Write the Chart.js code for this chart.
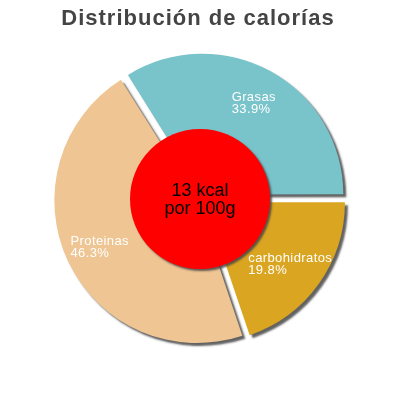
<!DOCTYPE html>
<html>
<head>
<meta charset="utf-8">
<script src="https://cdn.jsdelivr.net/npm/chart.js@4/dist/chart.umd.min.js"></script>
<style>
html,body{margin:0;padding:0;background:#fff;}
#wrap{width:400px;height:400px;}
</style>
</head>
<body>
<div id="wrap"><canvas id="c" width="400" height="400"></canvas></div>
<script>
const titleText = 'Distribución de calorías';
const categories = ['Grasas', 'carbohidratos', 'Proteinas'];
const percentages = [33.9, 19.8, 46.3];
const centerLines = ['13 kcal', 'por 100g'];
const sliceColors = ['#79c3cb', '#daa520', '#eec593'];

const DISP = 6; // exploded displacement in px

const total = percentages.reduce((a, b) => a + b, 0);
const startDeg = 90 - percentages[0] / total * 360;

function offsetFor(ctx) {
  const v = percentages[ctx.dataIndex];
  const circ = v / total * 2 * Math.PI;
  const fix = 1 - Math.sin(Math.min(Math.PI, circ));
  return 4 * DISP / (1 + fix);
}

const deco = {
  id: 'deco',
  beforeDraw(chart) {
    const ctx = chart.ctx;
    ctx.save();
    ctx.font = 'bold 22px "Liberation Sans", Arial, sans-serif';
    if ('letterSpacing' in ctx) ctx.letterSpacing = '1px';
    ctx.fillStyle = '#444444';
    ctx.textAlign = 'center';
    ctx.textBaseline = 'alphabetic';
    ctx.fillText(titleText, 198, 25);
    ctx.restore();
  },
  beforeDatasetDraw(chart) {
    const ctx = chart.ctx;
    ctx.save();
    ctx.shadowColor = 'rgba(70,70,70,0.85)';
    ctx.shadowBlur = 2;
    ctx.shadowOffsetX = 3;
    ctx.shadowOffsetY = 3;
  },
  afterDatasetDraw(chart) {
    chart.ctx.restore();
  },
  afterDatasetsDraw(chart) {
    const ctx = chart.ctx;
    const meta = chart.getDatasetMeta(0);
    const arc0 = meta.data[0];
    const cx = arc0.x, cy = arc0.y;
    // labels
    ctx.save();
    ctx.font = '13px "Liberation Sans", Arial, sans-serif';
    if ('letterSpacing' in ctx) ctx.letterSpacing = '0.4px';
    ctx.fillStyle = '#ffffff';
    ctx.textAlign = 'left';
    ctx.textBaseline = 'alphabetic';
    meta.data.forEach((arc, i) => {
      const p = arc.getProps(['startAngle', 'endAngle', 'outerRadius'], true);
      const mid = (p.startAngle + p.endAngle) / 2;
      const R = 0.75 * p.outerRadius + DISP;
      const ax = cx + Math.cos(mid) * R;
      const ay = cy + Math.sin(mid) * R;
      const l1 = categories[i];
      const l2 = percentages[i].toFixed(1) + '%';
      const w = Math.max(ctx.measureText(l1).width, ctx.measureText(l2).width);
      const lx = ax - w / 2;
      ctx.fillText(l1, lx, ay - 1.3);
      ctx.fillText(l2, lx, ay + 10.7);
    });
    ctx.restore();
    // center circle
    ctx.save();
    ctx.shadowColor = 'rgba(70,70,70,0.85)';
    ctx.shadowBlur = 2;
    ctx.shadowOffsetX = 2;
    ctx.shadowOffsetY = 2;
    ctx.beginPath();
    ctx.arc(cx, cy, 70, 0, Math.PI * 2);
    ctx.fillStyle = '#ff0000';
    ctx.fill();
    ctx.restore();
    ctx.save();
    ctx.font = '18px "Liberation Sans", Arial, sans-serif';
    ctx.fillStyle = '#000000';
    ctx.textAlign = 'center';
    ctx.textBaseline = 'alphabetic';
    ctx.fillText(centerLines[0], cx, cy - 3);
    ctx.fillText(centerLines[1], cx, cy + 15);
    ctx.restore();
  }
};

new Chart(document.getElementById('c'), {
  type: 'pie',
  data: {
    labels: categories,
    datasets: [{
      data: percentages,
      backgroundColor: sliceColors,
      borderWidth: 0,
      offset: offsetFor,
      radius: 140
    }]
  },
  options: {
    responsive: false,
    animation: false,
    rotation: startDeg,
    layout: { padding: { top: 0, bottom: 2, left: 0, right: 0 } },
    plugins: {
      legend: { display: false },
      tooltip: { enabled: false },
      title: { display: false }
    },
    events: []
  },
  plugins: [deco]
});
</script>
</body>
</html>
